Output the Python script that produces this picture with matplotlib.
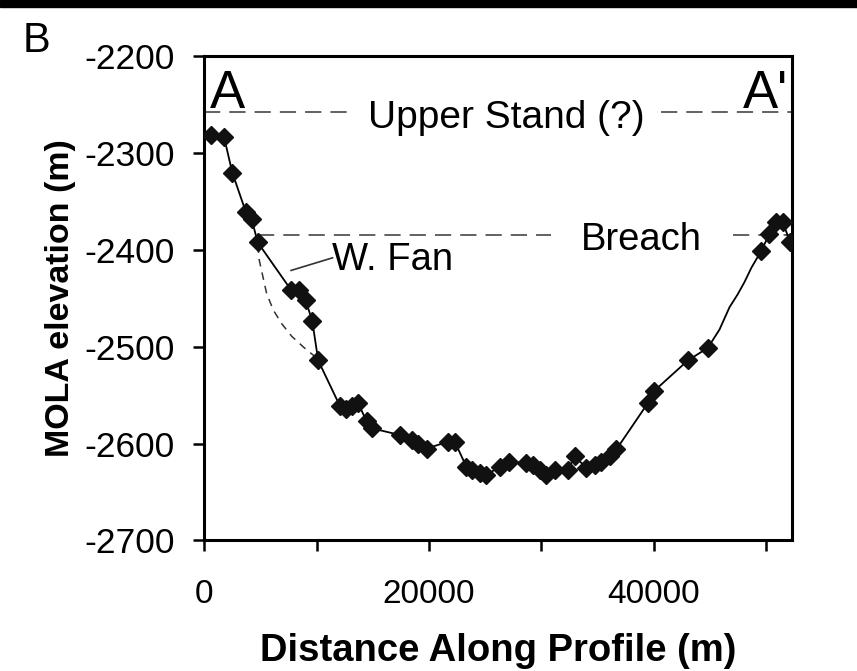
import matplotlib
matplotlib.use("Agg")
import matplotlib.pyplot as plt
from matplotlib.patches import Rectangle
from matplotlib.ticker import MultipleLocator, FuncFormatter

plt.rcParams["font.family"] = ["Liberation Sans", "DejaVu Sans"]
plt.rcParams["axes.unicode_minus"] = False

# MOLA profile points (distance m, elevation m)
dist = [578, 1760, 2498, 3716, 4222, 4756, 7716, 8453, 9022, 9609,
        10142, 12071, 12604, 13138, 13698, 14444, 14889, 17404, 18444, 19031,
        19778, 21698, 22293, 23333, 23867, 24500, 25111, 26293, 27100, 28670,
        29262, 29849, 30444, 31182, 32364, 32960, 34000, 34738, 35333, 36071,
        36667, 39476, 39982, 43031, 44809, 49556, 50293, 50889, 51476, 52133]
elev = [-2281, -2283, -2320, -2361, -2368, -2392, -2441, -2441, -2452, -2473,
        -2514, -2561, -2564, -2561, -2558, -2577, -2584, -2591, -2596, -2600,
        -2605, -2598, -2598, -2624, -2627, -2630, -2632, -2624, -2619, -2620,
        -2622, -2627, -2632, -2627, -2627, -2613, -2625, -2622, -2619, -2613,
        -2606, -2558, -2546, -2514, -2501, -2401, -2383, -2371, -2371, -2392]

# extra line vertices (no marker) on the climb toward A'
line_dist = [45849, 46738, 47449, 48071, 48693]
line_elev = [-2482, -2459, -2446, -2433, -2418]

# dashed outline of the western fan
fan_dist = [4782, 4889, 5556, 6148, 6893, 7780, 8811, 9849]
fan_elev = [-2395, -2410, -2445, -2462, -2476, -2489, -2500, -2510]

upper_stand = -2257
breach = -2384

fig = plt.figure(figsize=(8.57, 6.71), dpi=100)
fig.patches.append(Rectangle((0, 0.9896), 1, 0.0104, transform=fig.transFigure,
                             color="black", zorder=0))
ax = fig.add_axes([0.2383, 0.1945, 0.6859, 0.7213])

# profile line incl. unmarked vertices, then markers
all_pts = sorted(zip(dist + line_dist, elev + line_elev))
ax.plot([p[0] for p in all_pts], [p[1] for p in all_pts], color="black", lw=1.3, zorder=3)
ax.plot(dist, elev, ls="none", marker="D", ms=9.5, color="#111111", zorder=4)

ax.plot(fan_dist, fan_elev, color="#333333", lw=1.1, ls=(0, (5, 4)), zorder=2)

dash = (0, (9, 5))
ax.plot([0, 12960], [upper_stand, upper_stand], color="#555555", lw=1.3, ls=dash)
ax.plot([40670, 52300], [upper_stand, upper_stand], color="#555555", lw=1.3, ls=dash)
ax.plot([4782, 30890], [breach, breach], color="#555555", lw=1.3, ls=dash)
ax.plot([47010, 52300], [breach, breach], color="#555555", lw=1.3, ls=dash)

ax.text(26870, -2274, "Upper Stand (?)", fontsize=28, ha="center", va="baseline")
ax.text(38890, -2400, "Breach", fontsize=27.5, ha="center", va="baseline")
ax.plot([7733, 11413], [-2421, -2408], color="#333333", lw=1.2)
ax.text(11413, -2421, "W. Fan", fontsize=27.5, ha="left", va="baseline")
ax.text(500, -2253, "A", fontsize=38, ha="left", va="baseline")
ax.text(51900, -2253, "A'", fontsize=38, ha="right", va="baseline")

ax.set_xlim(0, 52300)
ax.set_ylim(-2700, -2200)
ax.xaxis.set_major_locator(MultipleLocator(10000))
ax.xaxis.set_major_formatter(FuncFormatter(lambda v, p: f"{int(v)}" if int(v) % 20000 == 0 else ""))
ax.yaxis.set_major_locator(MultipleLocator(100))
ax.tick_params(direction="out", length=8, width=1.8, labelsize=24)
ax.tick_params(axis="x", pad=20)
ax.tick_params(axis="y", pad=13, labelsize=25.5)
for s in ax.spines.values():
    s.set_linewidth(2.2)

ax.set_xlabel("Distance Along Profile (m)", fontsize=27.5, fontweight="bold", labelpad=16)
ax.set_ylabel("MOLA elevation (m)", fontsize=24.5, fontweight="bold", labelpad=6)

fig.text(0.026, 0.9225, "B", fontsize=30, ha="left", va="baseline")

fig.savefig("out.png", dpi=100)
